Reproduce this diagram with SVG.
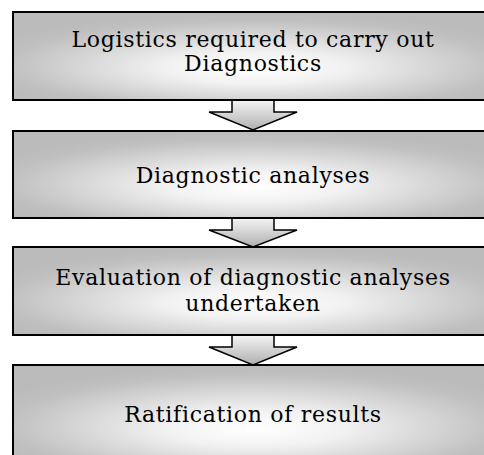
<svg xmlns="http://www.w3.org/2000/svg" width="484" height="455" viewBox="0 0 484 455">
  <defs>
    <radialGradient id="boxFill" cx="0.5" cy="0.6" r="0.6" fx="0.5" fy="0.65">
      <stop offset="0" stop-color="#ffffff"/>
      <stop offset="0.3" stop-color="#f2f2f2"/>
      <stop offset="0.85" stop-color="#c0c0c0"/>
      <stop offset="1" stop-color="#bbbbbb"/>
    </radialGradient>
    <linearGradient id="arrowFill" x1="0" y1="0" x2="0" y2="1">
      <stop offset="0" stop-color="#f4f4f4"/>
      <stop offset="1" stop-color="#b0b0b0"/>
    </linearGradient>
  </defs>
  <style>
    .box { fill: url(#boxFill); stroke: #000; stroke-width: 2; }
    .arrow { fill: url(#arrowFill); stroke: #000; stroke-width: 1.5; stroke-linejoin: miter; }
    .label { font-family: "DejaVu Serif", "Liberation Serif", serif; font-size: 22px; letter-spacing: 0.7px; fill: #000; text-anchor: middle; }
  </style>

  <g id="connectors">
    <polygon class="arrow" points="232,100 274,100 274,112 297,112 253,130 209,112 232,112"/>
    <polygon class="arrow" points="232,218 274,218 274,230 297,230 253,247 209,230 232,230"/>
    <polygon class="arrow" points="232,335 274,335 274,347 297,347 253,365 209,347 232,347"/>
  </g>

  <g id="node-logistics">
    <rect class="box" x="13" y="12" width="484" height="88"/>
    <text class="label" x="253" y="47">Logistics required to carry out</text>
    <text class="label" x="253" y="71">Diagnostics</text>
  </g>

  <g id="node-analyses">
    <rect class="box" x="13" y="131" width="484" height="87"/>
    <text class="label" x="253" y="183">Diagnostic analyses</text>
  </g>

  <g id="node-evaluation">
    <rect class="box" x="13" y="247" width="484" height="88"/>
    <text class="label" x="253" y="285">Evaluation of diagnostic analyses</text>
    <text class="label" x="253" y="311">undertaken</text>
  </g>

  <g id="node-ratification">
    <rect class="box" x="13" y="365" width="484" height="100"/>
    <text class="label" x="253" y="422">Ratification of results</text>
  </g>
</svg>
